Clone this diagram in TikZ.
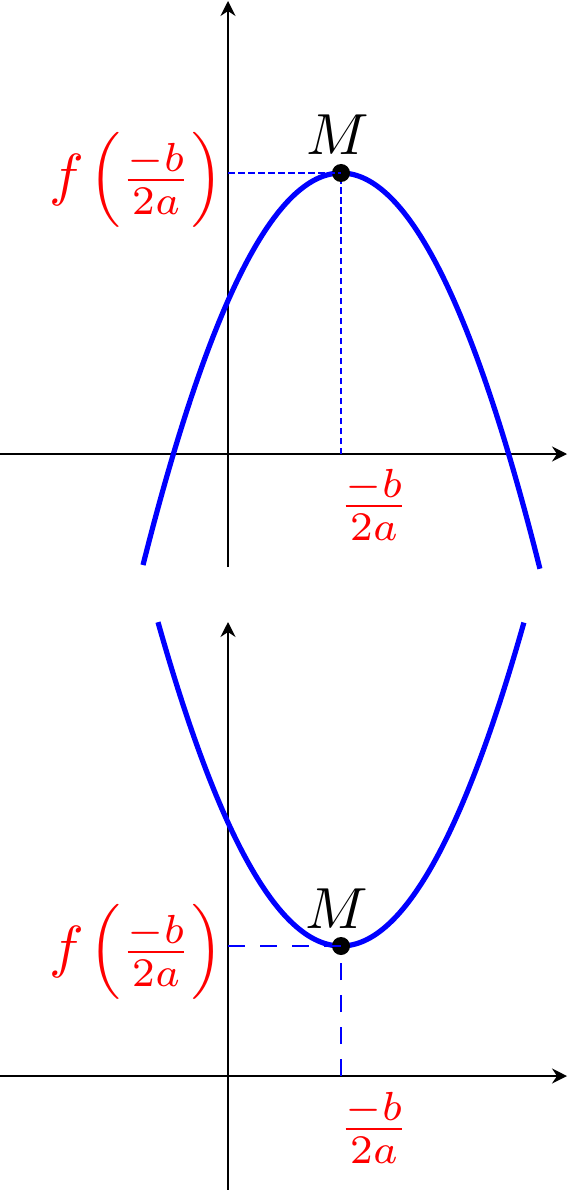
\documentclass[tikz,border=0pt]{standalone}
\usepackage{graphicx}
\usetikzlibrary{arrows.meta}
\newcommand\myLP{\mathopen{\vcenter{\hbox{\scalebox{0.91}{$\Big($}}}}}
\newcommand\myRP{\mathclose{\vcenter{\hbox{\scalebox{0.91}{$\Big)$}}}}}
\begin{document}
\begin{tikzpicture}[x=1pt,y=-1pt,
  axis/.style={line width=1.7pt,-{Stealth[length=15pt,width=15pt,inset=5pt]}},
  curve/.style={blue,line width=5.2pt},
  dot/.style={circle,fill=black,inner sep=0pt,minimum size=18pt},
  fdash/.style={blue,line width=2pt,dash pattern=on 6.5pt off 3.5pt},
  gdash/.style={blue,line width=2.2pt,dash pattern=on 17pt off 15pt},
  lab/.style={red,scale=5.8,inner sep=0pt},
  mlab/.style={black,scale=5.8,inner sep=0pt}]
\useasboundingbox (0,0) rectangle (568,1190);
% ---------- top graph ----------
\coordinate (xa1) at (0,454);
\coordinate (xb1) at (567,454);
\coordinate (ya1) at (228,567);
\coordinate (yb1) at (228,1);
\draw[axis] (xa1) -- (xb1);
\draw[axis] (ya1) -- (yb1);
\draw[curve] plot[domain=-1.98:1.99,samples=120,smooth] ({341+100*\x},{173+100*\x*\x});
\coordinate (fy1) at (228,173);
\coordinate (fx1) at (341,454);
\node[dot] (M1) at (341,173) {};
\draw[fdash] (fy1) -- (M1.center);
\draw[fdash] (fx1) -- (M1.south);
\node[mlab,anchor=base] (lm1) at (338,155) {$M$};
\node[lab,anchor=base east] (lf1) at (224,194.5) {$f\mkern1.5mu\myLP\frac{-b}{2a}\myRP$};
\node[lab,anchor=base] (lx1) at (374,520.5) {$\frac{-b}{2a}$};
% ---------- bottom graph ----------
\coordinate (xa2) at (0,1076);
\coordinate (xb2) at (567,1076);
\coordinate (ya2) at (228,1190);
\coordinate (yb2) at (228,622);
\draw[axis] (xa2) -- (xb2);
\draw[axis] (ya2) -- (yb2);
\draw[curve] plot[domain=-1.83:1.83,samples=120,smooth] ({341+100*\x},{946-96.7*\x*\x});
\coordinate (fy2) at (228,946);
\coordinate (fx2) at (341,1076);
\node[dot] (M2) at (341,946) {};
\draw[gdash] (fy2) -- (M2.center);
\draw[gdash] (fx2) -- (M2.south);
\node[mlab,anchor=base] (lm2) at (337,928) {$M$};
\node[lab,anchor=base east] (lf2) at (224,966.5) {$f\mkern1.5mu\myLP\frac{-b}{2a}\myRP$};
\node[lab,anchor=base] (lx2) at (374,1143.5) {$\frac{-b}{2a}$};
\end{tikzpicture}
\end{document}
